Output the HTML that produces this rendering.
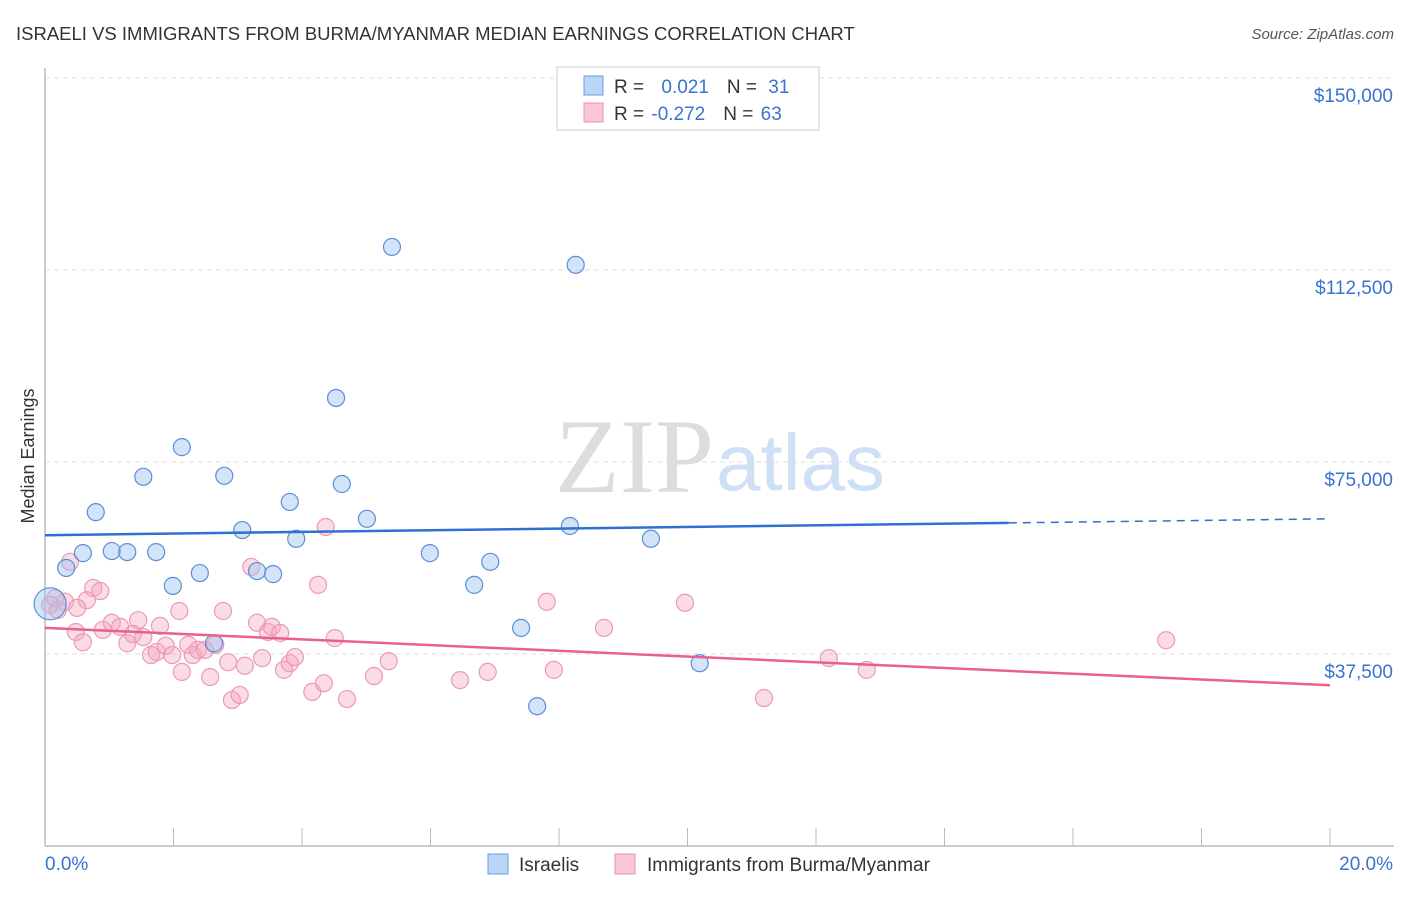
<!DOCTYPE html>
<html><head><meta charset="utf-8"><style>
body{margin:0;background:#fff;font-family:"Liberation Sans",sans-serif;}
</style></head><body>
<svg id="c" width="1406" height="892" xmlns="http://www.w3.org/2000/svg" style="font-family:'Liberation Sans',sans-serif">
<text x="16" y="40" font-size="18.5" fill="#333">ISRAELI VS IMMIGRANTS FROM BURMA/MYANMAR MEDIAN EARNINGS CORRELATION CHART</text>
<text x="1394" y="39" font-size="15" fill="#555" font-style="italic" text-anchor="end">Source: ZipAtlas.com</text>
<text x="34" y="456" font-size="18" fill="#333" transform="rotate(-90 34 456)" text-anchor="middle">Median Earnings</text>
<text x="714" y="492" font-size="106" fill="#ddd" text-anchor="end" font-family="Liberation Serif">ZIP</text>
<text x="716" y="490" font-size="80" fill="#cfe0f5">atlas</text>
<g id="grid"></g><g id="marks"></g>
<g>
<rect x="557" y="67" width="262" height="63" fill="#fff" stroke="#ccc"/>
<rect x="584" y="76" width="19" height="19" fill="#bcd4f5" stroke="#6a9be0"/>
<rect x="584" y="103" width="19" height="19" fill="#f9c6d6" stroke="#e890ac"/>
<text x="614" y="93" font-size="19" fill="#333">R = <tspan fill="#3a72d0" dx="12">0.021</tspan><tspan dx="18">N = </tspan><tspan fill="#3a72d0" dx="6">31</tspan></text>
<text x="614" y="120" font-size="19" fill="#333">R = <tspan fill="#3a72d0" dx="2">-0.272</tspan><tspan dx="18">N = </tspan><tspan fill="#3a72d0" dx="2">63</tspan></text>
</g>
<g>
<rect x="488" y="854" width="20" height="20" fill="#bcd4f5" stroke="#6a9be0"/>
<text x="519" y="871" font-size="19" fill="#333">Israelis</text>
<rect x="615" y="854" width="20" height="20" fill="#f9c6d6" stroke="#e890ac"/>
<text x="647" y="871" font-size="19" fill="#333">Immigrants from Burma/Myanmar</text>
</g>
</svg>
<script>
const yTicks=[37500,75000,112500,150000];
const yTickLabels=["$37,500","$75,000","$112,500","$150,000"];
const xTickLabels=["0.0%","20.0%"];
const blueX=[5.40,8.26,4.53,2.13,1.53,2.79,4.62,0.79,3.81,5.01,3.07,8.17,9.43,3.91,0.59,1.04,1.28,1.73,5.99,6.93,0.33,3.30,3.55,2.41,1.99,6.68,7.41,2.63,10.19,7.66,0.08];
const blueY=[117000,113500,87500,77900,72100,72300,70700,65200,67200,63900,61700,62500,60000,60000,57200,57600,57400,57400,57200,55500,54300,53700,53100,53300,50800,51000,42600,39600,35700,27300,47300];
const pinkX=[0.39,0.75,0.86,0.65,0.31,0.16,0.08,0.20,0.48,0.59,0.90,1.04,1.17,1.28,1.45,1.37,1.53,1.65,1.74,1.79,1.88,1.98,2.09,2.13,2.23,2.30,2.38,2.49,2.57,2.65,2.77,2.85,2.91,3.03,3.11,3.21,3.30,3.38,3.47,3.53,3.66,3.72,3.81,3.89,4.16,4.25,4.34,4.37,4.51,4.70,5.12,5.35,6.46,6.89,7.81,7.92,8.70,9.96,11.19,12.20,12.79,17.45,0.50];
const pinkY=[55500,50400,49800,48000,47700,48400,47100,46100,41800,39800,42200,43600,42800,39600,44100,41400,40800,37300,37900,43000,39100,37300,45900,34000,39300,37300,38300,38300,33000,39300,45900,35900,28500,29500,35200,54500,43600,36700,41800,42800,41600,34400,35700,36900,30100,51000,31800,62300,40600,28700,33200,36100,32400,34000,47700,34400,42600,47500,28900,36700,34400,40200,46500];
const blueTrend=[60700,63100]; // at 0% and 15%
const pinkTrend=[42600,31400]; // at 0% and 20%
const NS="http://www.w3.org/2000/svg";
const X=v=>45+v*64.25, Y=v=>846-v/195.3;
function mk(t,a,p){const e=document.createElementNS(NS,t);for(const k in a)e.setAttribute(k,a[k]);p.appendChild(e);return e;}
const g=document.getElementById('grid'), m=document.getElementById('marks');
yTicks.forEach((t,i)=>{
 const l=mk('line',{x1:45,x2:1394,y1:Y(t),y2:Y(t),stroke:'#ddd','stroke-dasharray':'5,4'},g);
 
 
 const tx=mk('text',{x:1393,y:Y(t)+24,'font-size':19,fill:'#3a72d0','text-anchor':'end'},g);
 tx.textContent=yTickLabels[i];
 
 
});
mk('line',{x1:45,x2:45,y1:68,y2:846,stroke:'#bbb','stroke-width':1.5},g);
mk('line',{x1:45,x2:1394,y1:846,y2:846,stroke:'#bbb','stroke-width':1.5},g);
for(let i=1;i<=10;i++){mk('line',{x1:X(i*2),x2:X(i*2),y1:828,y2:846,stroke:'#bbb'},g);}
[[0,'start',45],[20,'end',1393]].forEach((d,i)=>{const t=mk('text',{x:d[2],y:870,'font-size':19,fill:'#3a72d0','text-anchor':d[1]},g);t.textContent=xTickLabels[i];
 
 });
pinkX.forEach((x,i)=>{const c=mk('circle',{cx:X(x),cy:Y(pinkY[i]),r:8.5,fill:'rgba(246,166,192,0.4)',stroke:'#eb9ab5','stroke-width':1.2},m);
 
 });
blueX.forEach((x,i)=>{const c=mk('circle',{cx:X(x),cy:Y(blueY[i]),r:(i==30?16:8.5),fill:'rgba(160,195,240,0.45)',stroke:'#5a8fd8','stroke-width':1.2},m);
 
 });
const bs=(blueTrend[1]-blueTrend[0])/15;
let l=mk('line',{x1:X(0),y1:Y(blueTrend[0]),x2:X(15),y2:Y(blueTrend[1]),stroke:'#2f6fd0','stroke-width':2.5},m);


l=mk('line',{x1:X(15),y1:Y(blueTrend[1]),x2:X(20),y2:Y(blueTrend[0]+bs*20),stroke:'#2f6fd0','stroke-width':1.5,'stroke-dasharray':'8,6'},m);


l=mk('line',{x1:X(0),y1:Y(pinkTrend[0]),x2:X(20),y2:Y(pinkTrend[1]),stroke:'#e8608c','stroke-width':2.5},m);


</script>
</body></html>
